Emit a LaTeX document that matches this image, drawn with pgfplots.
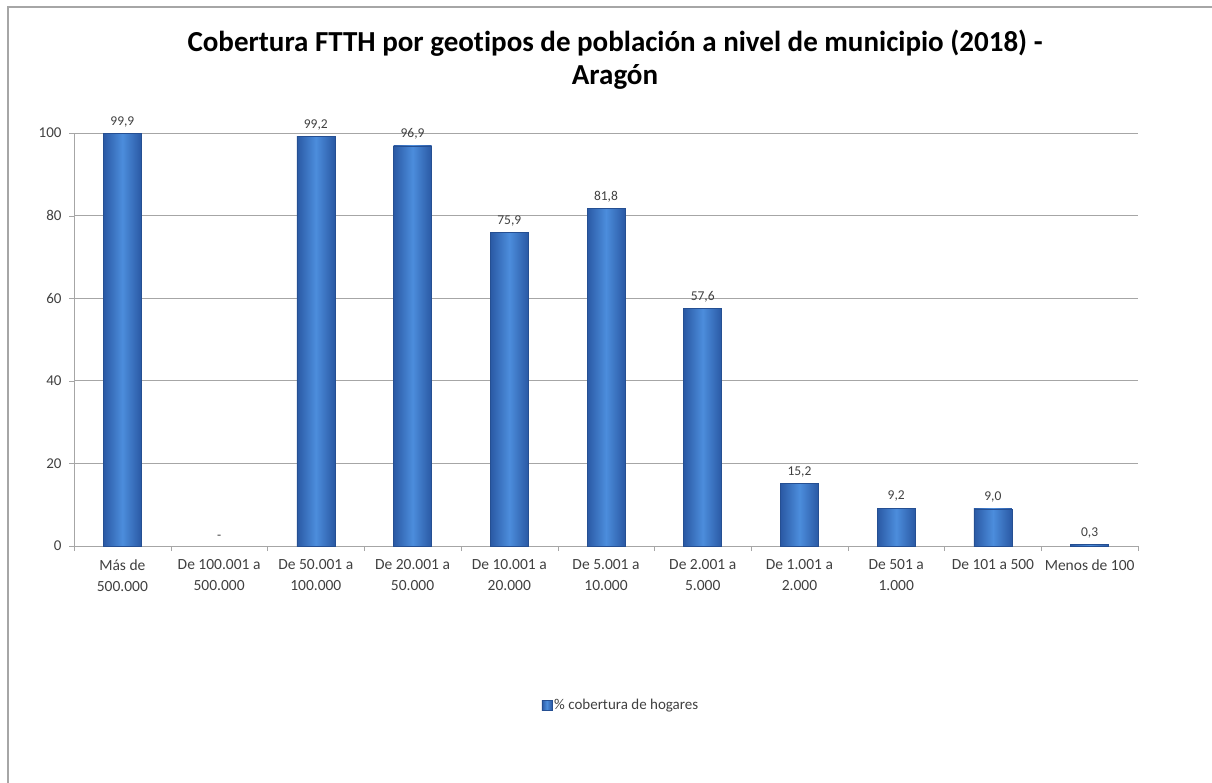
\documentclass[border=0pt]{standalone}
\usepackage{fontspec}
\setmainfont{Carlito}[Ligatures=NoCommon]
\usepackage{pgfplots}
\pgfplotsset{compat=1.18}

\definecolor{bardark}{HTML}{2A59A4}
\definecolor{barlight}{HTML}{4C8DDC}
\definecolor{barline}{HTML}{254F92}
\definecolor{gridgray}{HTML}{A6A6A6}
\definecolor{labgray}{HTML}{404040}

\pgfplotsset{
  cyl/.style={ybar, bar width=38pt, draw=barline, line width=0.6pt,
    left color=bardark, right color=bardark, middle color=barlight},
}

\begin{document}
\begin{tikzpicture}[x=1pt,y=1pt]
\useasboundingbox (0,0) rectangle (1212,-783);
% chart frame (only top and left edges visible)
\draw[gray!70, line width=1.2pt] (8,-783) -- (8,-7) -- (1212,-7);

\node[font=\fontsize{29}{33}\selectfont\bfseries, align=center, anchor=north, inner sep=0pt]
  at (615,-30) {Cobertura FTTH por geotipos de población a nivel de municipio (2018) -\\Aragón};

\begin{axis}[
    at={(74pt,-546pt)}, anchor=south west,
    scale only axis,
    width=1064pt, height=413pt,
    xmin=-0.5, xmax=10.5,
    ymin=0, ymax=100,
    ytick={0,20,40,60,80,100},
    xtick={0,...,10},
    xticklabels={{Más de\\500.000},{De 100.001 a\\500.000},{De 50.001 a\\100.000},{De 20.001 a\\50.000},{De 10.001 a\\20.000},{De 5.001 a\\10.000},{De 2.001 a\\5.000},{De 1.001 a\\2.000},{De 501 a\\1.000},{De 101 a 500},{Menos de 100}},
    xticklabel style={align=center, font=\fontsize{15.5}{21}\selectfont, text=labgray, anchor=north, yshift=-5pt},
    yticklabel style={font=\fontsize{15}{18}\selectfont, text=labgray, xshift=-4pt},
    /pgf/number format/assume math mode=true,
    minor xtick={-0.5,0.5,...,10.5},
    major x tick style={draw=none},
    minor x tick style={gridgray},
    y tick style={gridgray},
    tick align=outside,
    major tick length=5pt,
    minor tick length=5pt,
    axis x line*=bottom,
    axis y line*=left,
    axis line style={gridgray, line width=0.9pt},
    ymajorgrids,
    grid style={gridgray, line width=0.9pt},
    legend style={at={(0.514,-0.385)}, anchor=center, draw=none,
        font=\fontsize{15}{18}\selectfont, text=labgray},
    legend image code/.code={\draw[fill=barlight, draw=barline] (-4pt,-5pt) rectangle (6pt,5pt);},
    nodes near coords,
    point meta=explicit symbolic,
    nodes near coords style={font=\fontsize{13.5}{16}\selectfont, text=labgray, inner sep=6pt},
]

% one plot per bar so that each bar gets its own shading
\addplot[cyl] coordinates {(0,99.9) [99,9]};
\addlegendentry{\% cobertura de hogares}
\addplot[cyl, forget plot] coordinates {(2,99.2) [99,2]};
\addplot[cyl, forget plot] coordinates {(3,96.9) [96,9]};
\addplot[cyl, forget plot] coordinates {(4,75.9) [75,9]};
\addplot[cyl, forget plot] coordinates {(5,81.8) [81,8]};
\addplot[cyl, forget plot] coordinates {(6,57.6) [57,6]};
\addplot[cyl, forget plot] coordinates {(7,15.2) [15,2]};
\addplot[cyl, forget plot] coordinates {(8,9.2) [9,2]};
\addplot[cyl, forget plot] coordinates {(9,9.0) [9,0]};
\addplot[cyl, forget plot] coordinates {(10,0.3) [0,3]};

% category without data, shown as "-"
\addplot[ybar, bar width=38pt, draw=none, fill=none, forget plot]
coordinates {(1,0) [-]};

\end{axis}
\end{tikzpicture}
\end{document}
